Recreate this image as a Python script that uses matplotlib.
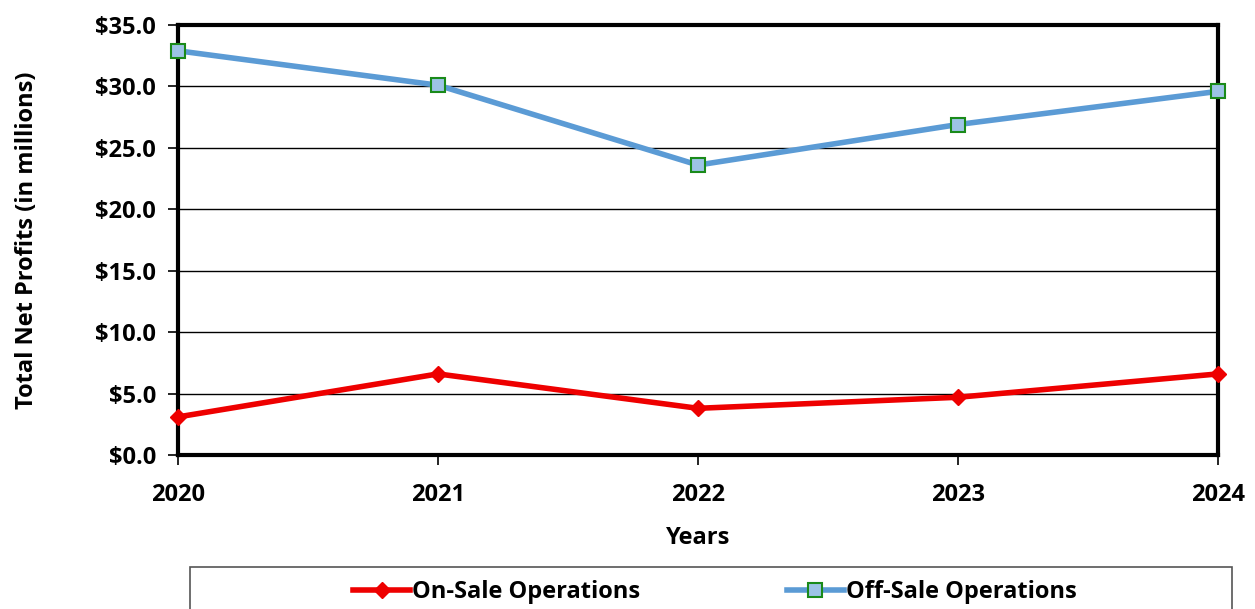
import matplotlib
matplotlib.use("Agg")
import matplotlib.pyplot as plt
from matplotlib.patches import Rectangle
from matplotlib.ticker import FuncFormatter

years = [2020, 2021, 2022, 2023, 2024]
on_sale = [3.1, 6.6, 3.8, 4.7, 6.6]
off_sale = [32.9, 30.1, 23.6, 26.9, 29.6]

plt.rcParams['font.family'] = ['Open Sans', 'DejaVu Sans']
plt.rcParams['font.weight'] = 'bold'

W, H = 1255, 609
fig = plt.figure(figsize=(W / 100, H / 100), dpi=100)
ax = fig.add_axes([178 / W, 1 - 455 / H, 1040 / W, 430 / H])

ax.plot(years, on_sale, color='#ee0000', lw=4, marker='D', ms=8,
        mfc='#ee0000', mec='#ee0000', label='On-Sale Operations', clip_on=False, zorder=3)
ax.plot(years, off_sale, color='#5b9bd5', lw=4, marker='s', ms=10,
        mfc='#9dc3e6', mec='#1a8a1a', mew=1.5, label='Off-Sale Operations', clip_on=False, zorder=3)

ax.set_xlim(2020, 2024)
ax.set_ylim(0, 35)
ax.set_xticks(years)
ax.set_yticks([0, 5, 10, 15, 20, 25, 30, 35])
ax.yaxis.set_major_formatter(FuncFormatter(lambda v, p: f"${v:.1f}"))
ax.grid(axis='y', color='black', lw=1)
ax.set_axisbelow(True)
for s in ax.spines.values():
    s.set_linewidth(3)
ax.tick_params(axis='both', labelsize=17, width=1.2, length=7, direction='out')
ax.tick_params(axis='x', pad=13)
ax.tick_params(axis='y', pad=9)
for lab in ax.get_xticklabels() + ax.get_yticklabels():
    lab.set_fontweight('bold')

ax.set_xlabel('Years', fontsize=17, fontweight='bold', labelpad=14)
ax.set_ylabel('Total Net Profits (in millions)', fontsize=17, fontweight='bold', labelpad=40)

# legend box
fig.patches.append(Rectangle((190 / W, -0.01), 1042 / W, 1 - 567 / H + 0.01,
                             transform=fig.transFigure, fill=False,
                             edgecolor='#555555', lw=1.2))
leg = fig.legend(loc='center', bbox_to_anchor=(715 / W, 1 - 592 / H), ncol=2,
                 frameon=False, fontsize=17, handlelength=2.4, handletextpad=0.1,
                 columnspacing=6.2)
for t in leg.get_texts():
    t.set_fontweight('bold')

fig.savefig('out.png', dpi=100)
